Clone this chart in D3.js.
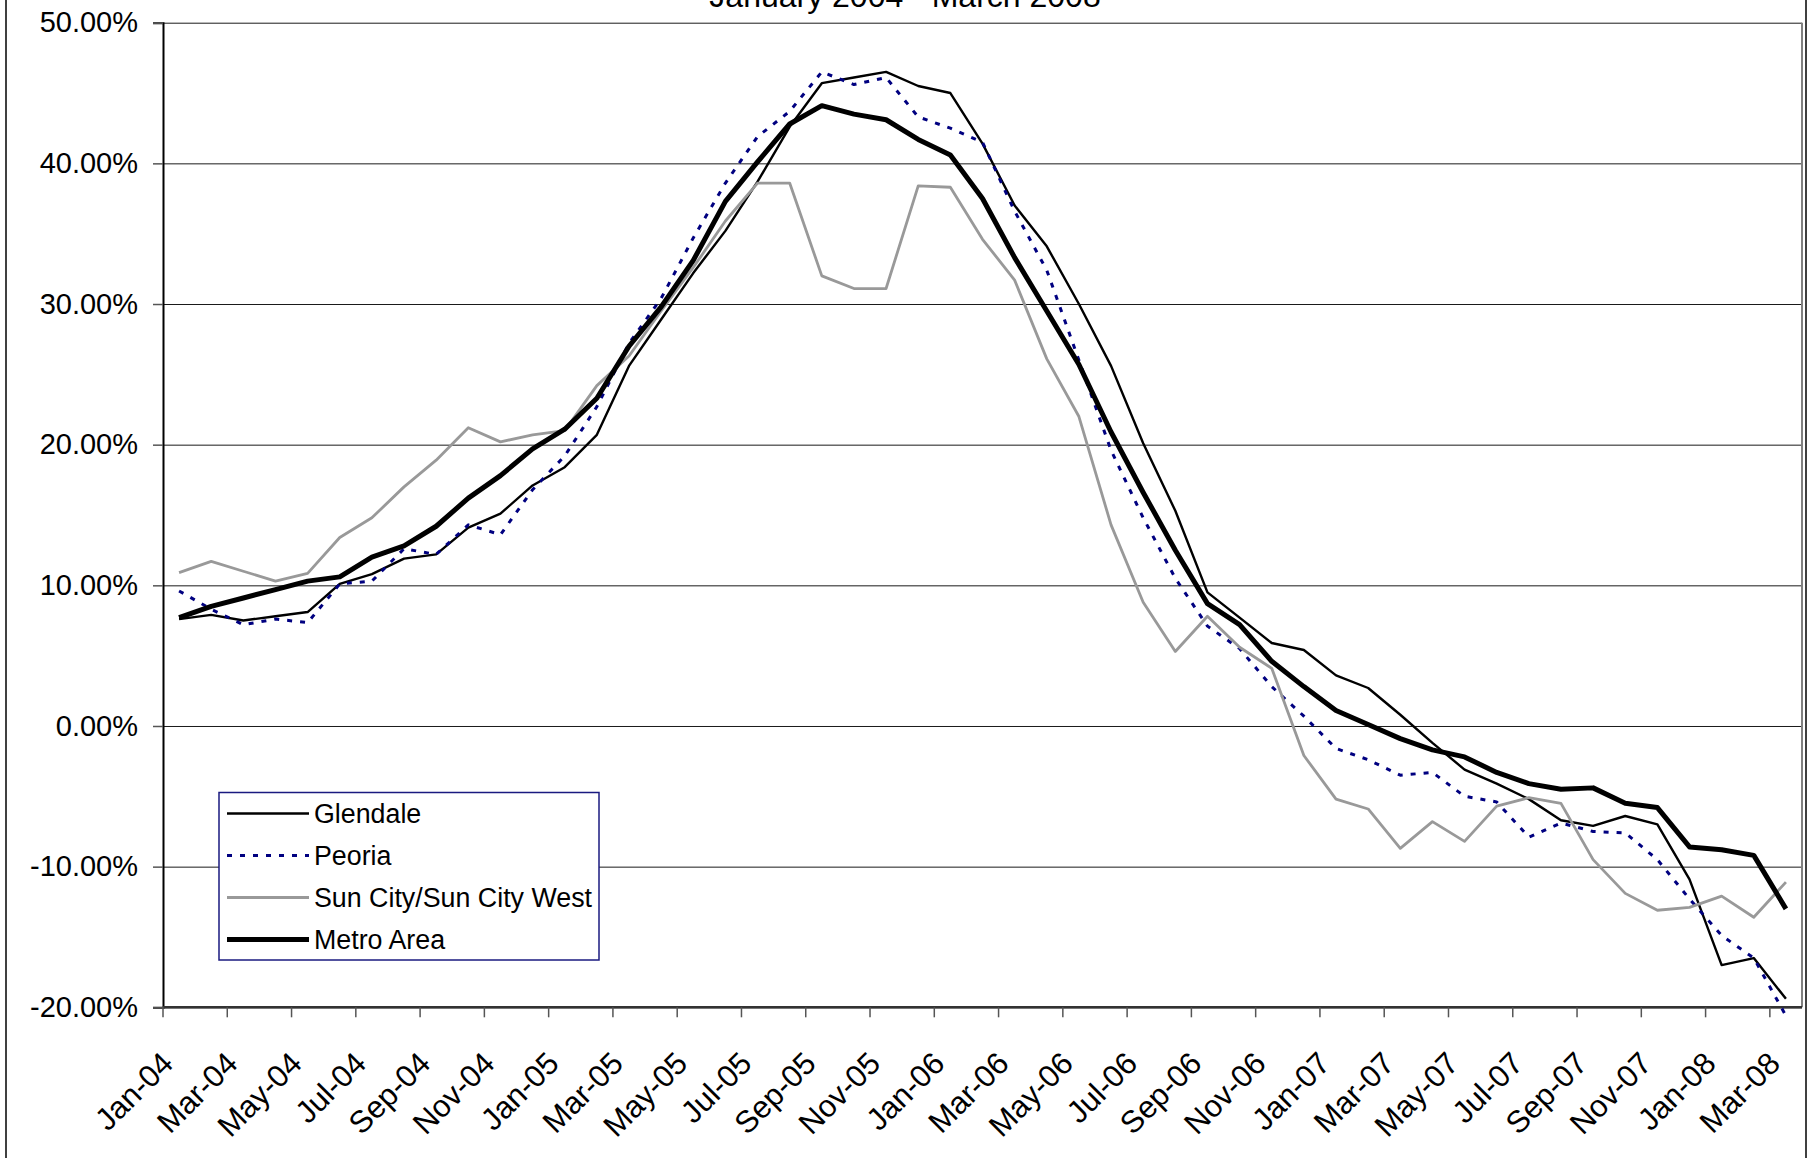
<!DOCTYPE html>
<html>
<head>
<meta charset="utf-8">
<script src="https://cdn.jsdelivr.net/npm/d3@7"></script>
<style>
  html, body { margin: 0; padding: 0; background: #fff; }
  svg { display: block; font-family: "Liberation Sans", Arial, sans-serif; }
</style>
</head>
<body>
<svg id="chart" width="1813" height="1158"></svg>
<script>
// Monthly year-over-year price change, Jan 2004 – Mar 2008
const months = [
  "Jan-04","Feb-04","Mar-04","Apr-04","May-04","Jun-04","Jul-04","Aug-04","Sep-04","Oct-04","Nov-04","Dec-04",
  "Jan-05","Feb-05","Mar-05","Apr-05","May-05","Jun-05","Jul-05","Aug-05","Sep-05","Oct-05","Nov-05","Dec-05",
  "Jan-06","Feb-06","Mar-06","Apr-06","May-06","Jun-06","Jul-06","Aug-06","Sep-06","Oct-06","Nov-06","Dec-06",
  "Jan-07","Feb-07","Mar-07","Apr-07","May-07","Jun-07","Jul-07","Aug-07","Sep-07","Oct-07","Nov-07","Dec-07",
  "Jan-08","Feb-08","Mar-08"
];

const glendale = [
  7.6, 7.9, 7.5, 7.8, 8.1, 10.1, 10.8, 11.9, 12.2, 14.1,
  15.1, 17.1, 18.4, 20.7, 25.6, 28.9, 32.2, 35.2, 38.7, 42.6,
  45.7, 46.1, 46.5, 45.5, 45.0, 41.4, 37.0, 34.1, 30.0, 25.6,
  20.1, 15.3, 9.5, 7.7, 5.9, 5.4, 3.6, 2.7, 0.8, -1.2,
  -3.1, -4.1, -5.2, -6.7, -7.1, -6.4, -7.0, -10.9, -17.0, -16.5, -19.4
];

const peoria = [
  9.6, 8.3, 7.2, 7.6, 7.35, 10.1, 10.3, 12.6, 12.2, 14.3,
  13.6, 16.8, 19.2, 22.7, 27.2, 30.4, 34.7, 38.6, 41.9, 43.7,
  46.5, 45.6, 46.1, 43.3, 42.5, 41.5, 36.6, 32.4, 26.0, 19.6,
  14.8, 10.5, 7.1, 5.5, 2.8, 0.7, -1.6, -2.4, -3.5, -3.3,
  -5.0, -5.4, -7.9, -6.9, -7.5, -7.6, -9.5, -12.3, -14.9, -16.5, -20.6
];

const sunCity = [
  10.9, 11.7, 11.0, 10.3, 10.85, 13.4, 14.8, 17.0, 18.9, 21.2,
  20.2, 20.7, 21.0, 24.2, 26.3, 29.5, 32.6, 35.9, 38.6, 38.6,
  32.0, 31.1, 31.1, 38.4, 38.3, 34.6, 31.7, 26.1, 22.0, 14.3,
  8.8, 5.3, 7.8, 5.6, 4.1, -2.1, -5.2, -5.9, -8.7, -6.8,
  -8.2, -5.7, -5.1, -5.5, -9.5, -11.9, -13.1, -12.9, -12.1, -13.6, -11.1
];

const metro = [
  7.7, 8.5, 9.1, 9.7, 10.3, 10.6, 12.0, 12.8, 14.2, 16.2,
  17.8, 19.7, 21.1, 23.3, 27.0, 29.8, 33.1, 37.3, 40.1, 42.8,
  44.1, 43.5, 43.1, 41.7, 40.6, 37.5, 33.3, 29.5, 25.7, 20.9,
  16.6, 12.5, 8.7, 7.2, 4.6, 2.8, 1.1, 0.1, -0.9, -1.7,
  -2.2, -3.3, -4.1, -4.5, -4.4, -5.5, -5.8, -8.6, -8.8, -9.2, -13.0
];

const yTicks = [-20, -10, 0, 10, 20, 30, 40, 50];
const xTickLabels = months.filter((m, i) => i % 2 === 0);
const titleText = "January 2004 - March 2008";

const series = [
  { name: "Glendale", values: glendale, color: "#000000", width: 2.4, dash: null },
  { name: "Peoria", values: peoria, color: "#000080", width: 3, dash: "5,8" },
  { name: "Sun City/Sun City West", values: sunCity, color: "#999999", width: 2.8, dash: null },
  { name: "Metro Area", values: metro, color: "#000000", width: 5, dash: null }
];

const svg = d3.select("#chart");
const plot = { left: 163, right: 1802, top: 22.7, bottom: 1007.3 };

// outer chart frame (extends past the visible area on top and bottom)
svg.append("line").attr("x1", 6).attr("x2", 6).attr("y1", -10).attr("y2", 1170)
  .attr("stroke", "#000").attr("stroke-width", 1.5);
svg.append("line").attr("x1", 1806).attr("x2", 1806).attr("y1", -10).attr("y2", 1170)
  .attr("stroke", "#000").attr("stroke-width", 1.5);

// title, partly above the top edge
svg.append("text")
  .attr("x", 905).attr("y", 7)
  .attr("text-anchor", "middle")
  .attr("font-size", 32)
  .attr("fill", "#000")
  .text(titleText);

const x = d3.scaleBand().domain(months).range([plot.left, plot.right]).padding(0);
const y = d3.scaleLinear().domain([-20, 50]).range([plot.bottom, plot.top]);
const cx = m => x(m) + x.bandwidth() / 2;

// horizontal gridlines
svg.append("g")
  .attr("transform", `translate(${plot.left},0)`)
  .call(d3.axisLeft(y).tickValues(yTicks).tickSize(-(plot.right - plot.left)).tickFormat(""))
  .call(g => g.select(".domain").remove())
  .call(g => g.selectAll("line").attr("stroke", "#1a1a1a").attr("stroke-width", 1));

// plot area right border
svg.append("line").attr("x1", plot.right).attr("x2", plot.right)
  .attr("y1", plot.top).attr("y2", plot.bottom)
  .attr("stroke", "#808080").attr("stroke-width", 2);

// y axis with labels
svg.append("g")
  .attr("transform", `translate(${plot.left},0)`)
  .call(d3.axisLeft(y).tickValues(yTicks).tickSize(10).tickPadding(15)
    .tickFormat(d => d.toFixed(2) + "%"))
  .call(g => g.select(".domain").attr("stroke", "#000").attr("stroke-width", 2))
  .call(g => g.selectAll(".tick line").attr("stroke", "#555").attr("stroke-width", 1.5))
  .call(g => g.selectAll("text")
    .attr("font-family", "'Liberation Sans', Arial, sans-serif")
    .attr("font-size", 29).attr("fill", "#000"));

// x axis: tick marks on category boundaries, labels under category centres
const xAxis = svg.append("g").attr("transform", `translate(0,${plot.bottom})`);
xAxis.append("line")
  .attr("x1", plot.left).attr("x2", plot.right)
  .attr("stroke", "#333").attr("stroke-width", 2.5);
xAxis.selectAll(".xtick")
  .data(xTickLabels)
  .join("line")
  .attr("class", "xtick")
  .attr("x1", d => x(d)).attr("x2", d => x(d))
  .attr("y1", 0).attr("y2", 10)
  .attr("stroke", "#555").attr("stroke-width", 1.5);
xAxis.selectAll(".xlabel")
  .data(xTickLabels)
  .join("text")
  .attr("class", "xlabel")
  .attr("transform", d => `translate(${cx(d) - 4},58) rotate(-45)`)
  .attr("text-anchor", "end")
  .attr("font-size", 31)
  .attr("fill", "#000")
  .text(d => d);

// series lines
const line = d3.line()
  .x((d, i) => cx(months[i]))
  .y(d => y(d))
  .curve(d3.curveLinear);

svg.append("g").selectAll("path")
  .data(series)
  .join("path")
  .attr("d", s => line(s.values))
  .attr("fill", "none")
  .attr("stroke", s => s.color)
  .attr("stroke-width", s => s.width)
  .attr("stroke-dasharray", s => s.dash)
  .attr("stroke-linejoin", "round")
  .attr("stroke-linecap", "butt");

// legend
const lg = svg.append("g");
lg.append("rect")
  .attr("x", 219).attr("y", 792.5).attr("width", 380).attr("height", 167.5)
  .attr("fill", "#fff").attr("stroke", "#1a1a80").attr("stroke-width", 1.5);
const rowY = [813.5, 855.5, 897.5, 939.5];
series.forEach((s, i) => {
  lg.append("line")
    .attr("x1", 227).attr("x2", 309)
    .attr("y1", rowY[i]).attr("y2", rowY[i])
    .attr("stroke", s.color)
    .attr("stroke-width", s.width)
    .attr("stroke-dasharray", s.dash);
  lg.append("text")
    .attr("x", 314).attr("y", rowY[i])
    .attr("dy", "0.35em")
    .attr("font-size", 26.8)
    .attr("fill", "#000")
    .text(s.name);
});
</script>
</body>
</html>
